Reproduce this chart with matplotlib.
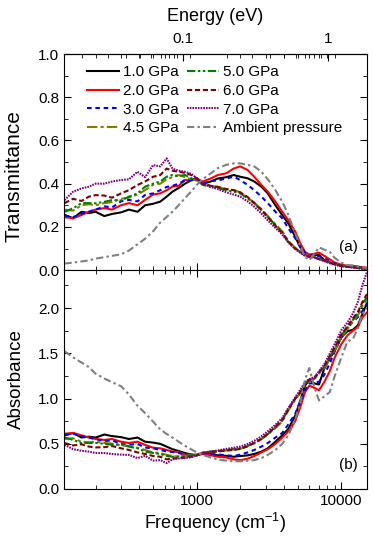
import numpy as np
import matplotlib
matplotlib.use('Agg')
import matplotlib.pyplot as plt
from matplotlib.ticker import MultipleLocator, LogLocator, NullFormatter, FixedLocator

plt.rcParams['font.family'] = ['Liberation Sans', 'DejaVu Sans']
plt.rcParams['mathtext.fontset'] = 'custom'
plt.rcParams['mathtext.rm'] = 'Liberation Sans'

# frequency grid (cm^-1)
freq = [122, 140, 160, 180, 200, 230, 260, 300, 340, 390, 440, 500, 560, 620, 680,
        750, 830, 920, 1000, 1100, 1250, 1400, 1600, 1800, 2000, 2250, 2500, 2800,
        3100, 3500, 3900, 4300, 4800, 5200, 5600, 6000, 6500, 7000, 7600, 8300, 9000,
        10000, 11000, 12000, 13000, 14000, 15000]

# transmittance
t_10 = [0.256, 0.24, 0.27, 0.264, 0.27, 0.25, 0.26, 0.267, 0.28, 0.27, 0.30, 0.307, 0.317, 0.34, 0.363,
        0.38, 0.40, 0.417, 0.424, 0.40, 0.41, 0.424, 0.43, 0.44, 0.432, 0.425, 0.41, 0.386,
        0.355, 0.30, 0.255, 0.216, 0.154, 0.105, 0.072, 0.062, 0.068, 0.070, 0.047, 0.036, 0.0295,
        0.021, 0.018, 0.0174, 0.0155, 0.0115, 0.0089]
t_20 = [0.245, 0.24, 0.255, 0.27, 0.28, 0.287, 0.28, 0.30, 0.31, 0.30, 0.325, 0.35, 0.355, 0.37, 0.386,
        0.39, 0.417, 0.415, 0.424, 0.41, 0.424, 0.44, 0.448, 0.47, 0.48, 0.463, 0.432, 0.394,
        0.363, 0.317, 0.27, 0.23, 0.178, 0.124, 0.085, 0.072, 0.076, 0.081, 0.066, 0.050, 0.035,
        0.025, 0.020, 0.0178, 0.0162, 0.0126, 0.0112]
t_30 = [0.252, 0.245, 0.262, 0.27, 0.28, 0.295, 0.29, 0.318, 0.325, 0.318, 0.348, 0.355, 0.37, 0.385, 0.39,
        0.40, 0.417, 0.417, 0.42, 0.40, 0.412, 0.415, 0.424, 0.432, 0.417, 0.394, 0.37, 0.34,
        0.31, 0.27, 0.24, 0.193, 0.147, 0.108, 0.081, 0.068, 0.068, 0.065, 0.055, 0.041, 0.030,
        0.021, 0.017, 0.0141, 0.0126, 0.0107, 0.0089]
t_45 = [0.28, 0.275, 0.30, 0.305, 0.30, 0.31, 0.315, 0.33, 0.335, 0.35, 0.37, 0.395, 0.40, 0.42, 0.43,
        0.44, 0.43, 0.42, 0.415, 0.40, 0.39, 0.385, 0.375, 0.37, 0.36, 0.335, 0.312, 0.282,
        0.25, 0.212, 0.18, 0.135, 0.103, 0.087, 0.069, 0.064, 0.061, 0.053, 0.046, 0.036, 0.029,
        0.021, 0.017, 0.014, 0.012, 0.0095, 0.008]
t_50 = [0.27, 0.286, 0.31, 0.31, 0.309, 0.316, 0.324, 0.322, 0.34, 0.355, 0.386, 0.40, 0.41, 0.432, 0.44,
        0.435, 0.44, 0.425, 0.417, 0.394, 0.386, 0.38, 0.37, 0.363, 0.355, 0.332, 0.309, 0.278,
        0.247, 0.208, 0.175, 0.13, 0.10, 0.085, 0.068, 0.063, 0.060, 0.052, 0.045, 0.035, 0.028,
        0.020, 0.0162, 0.0135, 0.0115, 0.0089, 0.0076]
t_60 = [0.31, 0.33, 0.32, 0.34, 0.347, 0.345, 0.335, 0.355, 0.37, 0.394, 0.41, 0.432, 0.44, 0.47, 0.46,
        0.455, 0.45, 0.44, 0.425, 0.40, 0.39, 0.385, 0.375, 0.37, 0.36, 0.338, 0.31, 0.28,
        0.245, 0.205, 0.172, 0.132, 0.10, 0.085, 0.068, 0.062, 0.059, 0.051, 0.044, 0.034, 0.027,
        0.0195, 0.016, 0.013, 0.011, 0.0085, 0.007]
t_70 = [0.324, 0.363, 0.378, 0.386, 0.40, 0.40, 0.41, 0.417, 0.42, 0.455, 0.43, 0.486, 0.48, 0.517, 0.47,
        0.46, 0.455, 0.445, 0.425, 0.40, 0.385, 0.375, 0.36, 0.35, 0.34, 0.318, 0.293, 0.262,
        0.23, 0.195, 0.165, 0.127, 0.097, 0.08, 0.066, 0.061, 0.058, 0.05, 0.042, 0.032, 0.025,
        0.0175, 0.0145, 0.0115, 0.0085, 0.0055, 0.004]
t_amb = [0.03, 0.035, 0.04, 0.045, 0.053, 0.06, 0.066, 0.073, 0.09, 0.12, 0.145, 0.18, 0.22, 0.246, 0.27,
         0.30, 0.333, 0.365, 0.394, 0.42, 0.448, 0.472, 0.487, 0.494, 0.494, 0.487, 0.48, 0.455,
         0.42, 0.37, 0.317, 0.255, 0.17, 0.11, 0.062, 0.046, 0.075, 0.105, 0.095, 0.085, 0.056,
         0.035, 0.0234, 0.022, 0.0166, 0.0115, 0.010]

labels = ['1.0 GPa', '2.0 GPa', '3.0 GPa', '4.5 GPa', '5.0 GPa', '6.0 GPa', '7.0 GPa', 'Ambient pressure']
series = [t_10, t_20, t_30, t_45, t_50, t_60, t_70, t_amb]
colors = ['black', '#ff0000', '#0000ff', '#808000', '#008000', '#800000', '#800080', '#808080']
styles = ['-', '-', (0, (2.2, 1.8)), (0, (5, 1.5, 1.5, 1.5)), (0, (4, 1.2, 1.2, 1.2, 1.2, 1.2)),
          (0, (2.5, 1.3)), (0, (0.8, 0.5)), (0, (3.5, 1.5, 1.2, 1.5))]

fig = plt.figure(figsize=(3.74, 5.37), dpi=100)
ax1 = fig.add_axes([0.171, 0.497, 0.81, 0.4024])
ax2 = fig.add_axes([0.171, 0.0894, 0.81, 0.4076])

for t, c, ls, lab in zip(series, colors, styles, labels):
    t = np.array(t)
    ax1.plot(freq, t, color=c, ls=ls, lw=1.5, label=lab)
    # absorbance = -log10(transmittance)
    ax2.plot(freq, -np.log10(t), color=c, ls=ls, lw=1.5)

for ax in (ax1, ax2):
    ax.set_xscale('log')
    ax.set_xlim(121, 15000)
    ax.xaxis.set_major_locator(FixedLocator([1000, 10000]))
    ax.xaxis.set_minor_locator(LogLocator(base=10, subs=np.arange(2, 10)))
    ax.xaxis.set_minor_formatter(NullFormatter())
    ax.tick_params(which='both', direction='in', top=True, right=True, labelsize=11)
    ax.tick_params(which='major', length=5)
    ax.tick_params(which='minor', length=3)

ax1.set_ylim(0, 1.0)
ax1.yaxis.set_major_locator(MultipleLocator(0.2))
ax1.yaxis.set_minor_locator(MultipleLocator(0.1))
ax1.tick_params(labelbottom=False, top=False)
ax1.set_ylabel('Transmittance', fontsize=15)
ax1.yaxis.set_label_coords(-0.135, 0.435)

ax2.set_ylim(0, 2.42)
ax2.yaxis.set_major_locator(MultipleLocator(0.5))
ax2.yaxis.set_minor_locator(MultipleLocator(0.25))
ax2.set_ylabel('Absorbance', fontsize=13.5)
ax2.yaxis.set_label_coords(-0.128, 0.5)
ax2.set_xlabel('Frequency (cm$^{-1}$)', fontsize=13, labelpad=2)
ax2.set_xticklabels(['1000', '10000'])

sec = ax1.secondary_xaxis('top', functions=(lambda f: f / 8065.54, lambda e: e * 8065.54))
sec.xaxis.set_major_locator(FixedLocator([0.1, 1]))
sec.xaxis.set_minor_locator(LogLocator(base=10, subs=np.arange(2, 10)))
sec.xaxis.set_minor_formatter(NullFormatter())
sec.set_xticklabels(['0.1', '1'])
sec.tick_params(which='both', direction='in', labelsize=11, pad=5.5)
sec.tick_params(which='major', length=5)
sec.tick_params(which='minor', length=3)
sec.set_xlabel('Energy (eV)', fontsize=13, labelpad=8)

ax1.legend(ncol=2, loc='upper left', frameon=False, fontsize=11, handlelength=2.1,
           columnspacing=0.5, handletextpad=0.3, labelspacing=0.3,
           bbox_to_anchor=(0.045, 0.99), borderaxespad=0.2)

ax1.text(0.94, 0.09, '(a)', transform=ax1.transAxes, fontsize=11, ha='center')
ax2.text(0.94, 0.09, '(b)', transform=ax2.transAxes, fontsize=11, ha='center')

fig.savefig('out.png', dpi=100)
